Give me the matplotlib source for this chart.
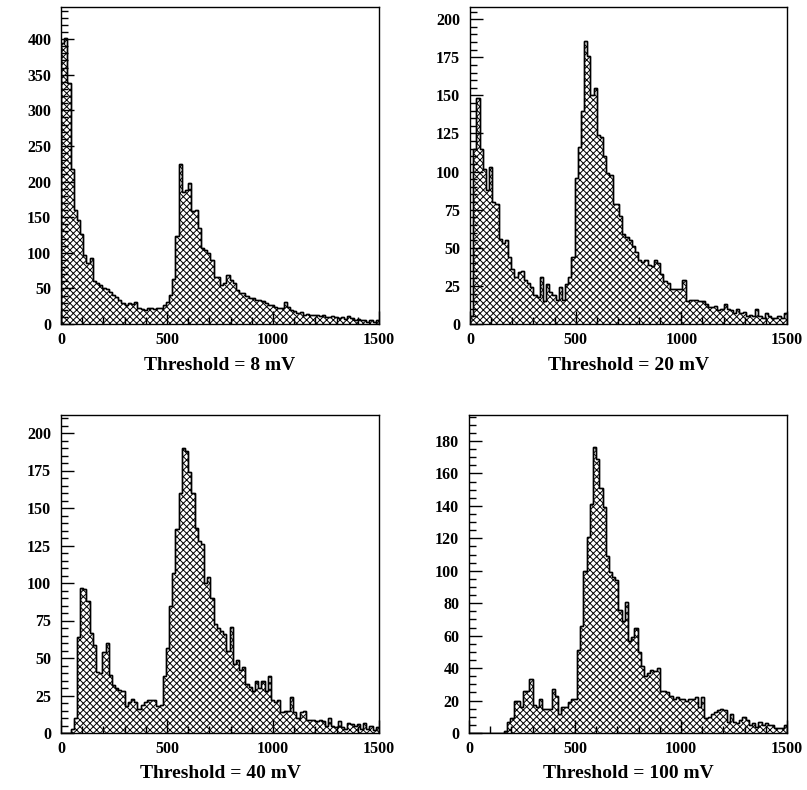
import numpy as np
import matplotlib
matplotlib.use("Agg")
import matplotlib.pyplot as plt
from matplotlib.ticker import MultipleLocator

# bin contents, 100 bins of 15 between 0 and 1500
counts_8mv = [395, 401, 338, 218, 160, 146, 127, 97, 85, 92,
              60, 57, 55, 51, 49, 45, 41, 38, 34, 30,
              27, 30, 28, 31, 22, 21, 20, 23, 22, 21,
              22, 23, 26, 31, 41, 63, 123, 225, 186, 188,
              198, 158, 160, 135, 106, 104, 99, 90, 66, 66,
              55, 57, 69, 62, 57, 48, 43, 44, 39, 37,
              36, 34, 34, 32, 30, 27, 26, 24, 22, 22,
              31, 24, 20, 18, 15, 17, 13, 14, 13, 12,
              13, 11, 12, 10, 10, 11, 10, 9, 10, 7,
              11, 8, 6, 7, 5, 6, 3, 5, 3, 5]

counts_20mv = [5, 115, 148, 115, 102, 88, 103, 80, 79, 56,
               53, 55, 44, 36, 31, 34, 35, 29, 27, 24,
               19, 18, 31, 15, 26, 21, 19, 16, 24, 16,
               26, 31, 44, 96, 116, 140, 186, 176, 150, 155,
               124, 123, 110, 99, 98, 79, 79, 71, 59, 57,
               55, 51, 47, 42, 41, 42, 39, 38, 42, 40,
               33, 28, 27, 23, 23, 23, 23, 29, 15, 16,
               16, 16, 15, 15, 13, 11, 11, 12, 9, 10,
               13, 10, 9, 7, 10, 7, 8, 5, 6, 5,
               10, 5, 4, 7, 5, 4, 4, 5, 4, 7]

counts_40mv = [0, 0, 0, 3, 10, 64, 97, 96, 88, 67,
               59, 41, 40, 54, 60, 39, 32, 30, 29, 28,
               18, 21, 23, 21, 16, 19, 21, 22, 22, 22,
               18, 19, 38, 57, 85, 107, 136, 160, 190, 188,
               174, 160, 137, 128, 126, 100, 104, 90, 73, 70,
               68, 66, 55, 71, 46, 49, 42, 44, 33, 31,
               28, 35, 30, 35, 28, 38, 22, 21, 22, 14,
               15, 15, 24, 14, 10, 14, 15, 9, 9, 9,
               8, 9, 8, 5, 10, 5, 4, 8, 4, 3,
               7, 6, 5, 6, 3, 7, 3, 5, 2, 4]

counts_100mv = [0, 0, 0, 0, 0, 0, 0, 0, 0, 0,
                0, 1, 7, 9, 20, 20, 16, 26, 26, 33,
                17, 16, 21, 15, 15, 15, 27, 23, 12, 16,
                16, 19, 21, 21, 51, 66, 100, 121, 141, 176,
                169, 151, 139, 109, 99, 96, 94, 76, 69, 81,
                57, 59, 65, 50, 41, 35, 37, 39, 38, 40,
                26, 26, 25, 23, 21, 22, 21, 21, 20, 21,
                21, 22, 16, 22, 9, 10, 12, 13, 14, 15,
                14, 7, 12, 7, 6, 8, 10, 8, 5, 6,
                4, 7, 5, 6, 5, 5, 3, 3, 3, 5]

labels = ["Threshold = 8 mV", "Threshold = 20 mV",
          "Threshold = 40 mV", "Threshold = 100 mV"]
ymax_list = [445, 208, 212, 196]
ymajor = [50, 25, 25, 20]
yminor = [10, 5, 5, 5]

W, H = 807, 790
# axes boxes in pixels: left, top, right, bottom
boxes = [(61, 7, 379, 324), (470, 7, 787, 324),
         (61, 415, 379, 733), (469, 415, 787, 733)]

plt.rcParams['font.family'] = 'Liberation Serif'
plt.rcParams['font.weight'] = 'bold'
plt.rcParams['hatch.linewidth'] = 0.7

fig = plt.figure(figsize=(W / 100, H / 100), dpi=100)
edges = np.linspace(0, 1500, 101)
all_counts = [counts_8mv, counts_20mv, counts_40mv, counts_100mv]

for k, counts in enumerate(all_counts):
    l, t, r, b = boxes[k]
    ax = fig.add_axes([l / W, 1 - b / H, (r - l) / W, (b - t) / H])
    ax.stairs(counts, edges, fill=True, facecolor='white', edgecolor='black',
              hatch='xxxxx', linewidth=1.0)
    ax.stairs(counts, edges, color='black', linewidth=1.0)
    ax.set_xlim(0, 1500)
    ax.set_ylim(0, ymax_list[k])
    ax.xaxis.set_major_locator(MultipleLocator(500))
    ax.xaxis.set_minor_locator(MultipleLocator(100))
    ax.yaxis.set_major_locator(MultipleLocator(ymajor[k]))
    ax.yaxis.set_minor_locator(MultipleLocator(yminor[k]))
    ax.tick_params(which='both', direction='in', top=False, right=False,
                   width=1, labelsize=11.5)
    ax.tick_params(which='major', length=9.5)
    ax.tick_params(which='minor', length=5)
    ax.tick_params(axis='x', pad=6)
    ax.tick_params(axis='y', pad=7)
    for lab in ax.get_xticklabels() + ax.get_yticklabels():
        lab.set_fontweight('bold')
    for sp in ax.spines.values():
        sp.set_linewidth(1.0)
    fig.text(((l + r) / 2) / W, 1 - (b + 41) / H, labels[k],
             ha='center', va='center', fontsize=14, fontweight='bold')

fig.savefig("out.png", dpi=100)
